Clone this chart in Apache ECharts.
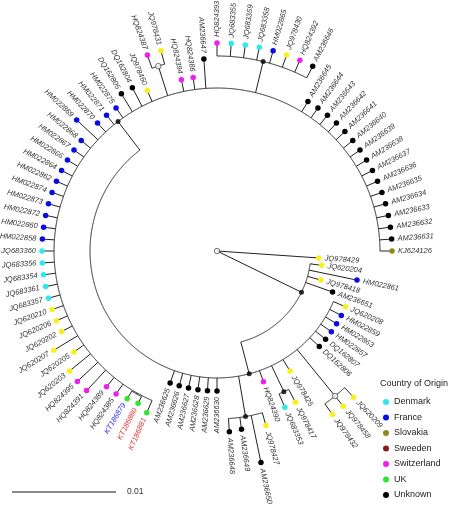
<!DOCTYPE html>
<html><head><meta charset="utf-8">
<script src="https://cdn.jsdelivr.net/npm/echarts@6/dist/echarts.min.js"></script>
<style>html,body{margin:0;padding:0;background:#fff}#c{width:472px;height:505px}</style>
</head><body><div id="c"></div>
<script>
// ---------- DATA ----------
// Tree topology (Newick); branch lengths in units of 1e-4 substitutions/site
const treeNewick = "(JQ978429:98,(JQ620204:11.1,HM022861:47.1,JQ978418:13.2,AM236651:27.5,(JQ620208:12.5,HM022859:12.5,HM022863:12.5,HM022857:12.5,DQ162807:12.5,DQ162806:12.5,(JQ620209:12.5,JQ978458:12.5,JQ978432:12.5)E:57.7,JQ978425:13,(JQ978417:14,JQ683353:14)F:27.7,HQ824390:11.2,(JQ978427:12.8,AM236650:46.2,AM236649:11.6,AM236648:12.7)G:39.4,AM236630:12.5,AM236629:12.5,AM236628:12.5,AM236627:12.5,AM236626:12.5,AM236625:12.5,(KT186881:12.8,(KT186880:7.3,KT186879:8.5)K:1,HQ824385:11.6,HQ824389:11.6,HQ824391:27,HQ824395:27,JQ620203:26,JQ620205:11.6,JQ620207:27,JQ620202:11.6,JQ620206:11.6,JQ620210:11.6,JQ683357:11.6,JQ683361:11.6,JQ683354:11.6,JQ683356:11.6,JQ683360:11.6,HM022858:11.6,HM022860:11.6,HM022872:11.6,HM022873:11.6,HM022874:11.6,HM022862:11.6,HM022864:11.6,HM022866:11.6,HM022867:11.6,HM022868:11.6,HM022869:27.9,HM022870:11.6,HM022871:11.6,HM022875:11.6,DQ162805:20.2,DQ162804:20.2,JQ978460:11.6,(HQ824387:13.5,JQ978431:13.5)X:29.8,HQ824394:11.6,HQ824386:11.6,AM236647:28.4,(HQ824393:12.5,JQ683355:12.5,JQ683359:12.5,JQ683358:12.5,HM022865:12.5,JQ978430:12.5,HQ824392:12.5,AM236646:12.5)N1:30.8,AM236645:11.6,AM236644:11.6,AM236643:11.6,AM236642:11.6,AM236641:11.6,AM236640:11.6,AM236639:11.6,AM236638:11.6,AM236637:11.6,AM236636:11.6,AM236635:11.6,AM236634:11.6,AM236633:11.6,AM236632:11.6,AM236631:11.6,KJ624126:11.6)H:34.6)B:31.7)A:90.4)root;";

// Leaf names and country, in tip order (clockwise from the right)
const leafNames = ["JQ978429","JQ620204","HM022861","JQ978418","AM236651","JQ620208","HM022859","HM022863","HM022857","DQ162807","DQ162806","JQ620209","JQ978458","JQ978432","JQ978425","JQ978417","JQ683353","HQ824390","JQ978427","AM236650","AM236649","AM236648","AM236630","AM236629","AM236628","AM236627","AM236626","AM236625","KT186881","KT186880","KT186879","HQ824385","HQ824389","HQ824391","HQ824395","JQ620203","JQ620205","JQ620207","JQ620202","JQ620206","JQ620210","JQ683357","JQ683361","JQ683354","JQ683356","JQ683360","HM022858","HM022860","HM022872","HM022873","HM022874","HM022862","HM022864","HM022866","HM022867","HM022868","HM022869","HM022870","HM022871","HM022875","DQ162805","DQ162804","JQ978460","HQ824387","JQ978431","HQ824394","HQ824386","AM236647","HQ824393","JQ683355","JQ683359","JQ683358","HM022865","JQ978430","HQ824392","AM236646","AM236645","AM236644","AM236643","AM236642","AM236641","AM236640","AM236639","AM236638","AM236637","AM236636","AM236635","AM236634","AM236633","AM236632","AM236631","KJ624126"];
const leafCountry = ["O","O","France","O","Unknown","O","France","France","France","Unknown","Unknown","O","O","O","O","O","Denmark","Switzerland","O","Unknown","Unknown","Unknown","Unknown","Unknown","Unknown","Unknown","Unknown","Unknown","UK","UK","UK","Switzerland","Switzerland","Switzerland","Switzerland","O","O","O","O","O","O","Denmark","Denmark","Denmark","Denmark","Denmark","France","France","France","France","France","France","France","France","France","France","France","France","France","France","Unknown","Unknown","O","Switzerland","O","Switzerland","Switzerland","Unknown","Switzerland","Denmark","Denmark","Denmark","France","O","Switzerland","Unknown","Unknown","Unknown","Unknown","Unknown","Unknown","Unknown","Unknown","Unknown","Unknown","Unknown","Unknown","Unknown","Unknown","Unknown","Unknown","Slovakia"];
const labelColors = {"KT186879":"#2a2ae0","KT186880":"#e83030","KT186881":"#e83030"};

const countries = ["Denmark","France","Slovakia","Sweeden","Switzerland","UK","Unknown"];
const countryColors = {"Denmark":"#2ee8ee","France":"#0a0ae6","Slovakia":"#8c8a1c","Sweeden":"#8b1a1a","Switzerland":"#f01ef0","UK":"#2ee62e","Unknown":"#000000","O":"#f6f01c"};

const filledNodes = ["A","B","F","G","H","N1"];
const openNodes = ["root","E","X"];

const scaleBarValue = 0.01;      // substitutions/site
const unitPerSubst = 1e4;        // branch length units

// ---------- PARSE & LAYOUT ----------
function parseNewick(s){
  let i=0;
  function node(){
    const n={children:[]};
    if(s[i]==='('){
      i++;
      while(true){
        n.children.push(node());
        if(s[i]===','){i++;continue;}
        if(s[i]===')'){i++;break;}
      }
    }
    let name='';
    while(i<s.length && !',():;'.includes(s[i])) name+=s[i++];
    n.name=name; n.len=0;
    if(s[i]===':'){i++;let num='';while(i<s.length && !',();'.includes(s[i])) num+=s[i++];n.len=parseFloat(num);}
    return n;
  }
  return node();
}
const root=parseNewick(treeNewick);
let leafCounter=0;
const allNodes=[];
function layout(n,pd){
  n.parentDepth=pd; n.depth=pd+n.len;
  if(!n.children.length){ leafCounter++; n.angle=leafCounter; n.leafIndex=leafCounter-1; }
  else{
    n.children.forEach(c=>layout(c,n.depth));
    n.angle=n.children.reduce((s,c)=>s+c.angle,0)/n.children.length;
    n.a0=n.children[0].angle; n.a1=n.children[n.children.length-1].angle;
  }
  allNodes.push(n);
}
layout(root,0);
const nLeaves=leafCounter;

const branchData=allNodes.filter(n=>n!==root).map(n=>[n.depth,n.angle,n.parentDepth,n.children.length?n.a0:-1,n.children.length?n.a1:-1]);
const leaves=allNodes.filter(n=>!n.children.length).sort((a,b)=>a.leafIndex-b.leafIndex);

const radiusMax=220, polarR=228.8;
const font='"Liberation Sans", Arial, sans-serif';

const series=[];
series.push({
  type:'custom', coordinateSystem:'polar', silent:true, z:1,
  data:branchData,
  renderItem:function(params,api){
    const r=api.value(0),a=api.value(1),pr=api.value(2),a0=api.value(3),a1=api.value(4);
    const p0=api.coord([pr,a]),p1=api.coord([r,a]);
    const ch=[{type:'line',shape:{x1:p0[0],y1:p0[1],x2:p1[0],y2:p1[1]},style:{stroke:'#222',lineWidth:1}}];
    if(a0>=0 && a1>a0){
      const pts=[];const n=Math.max(2,Math.ceil((a1-a0)/0.05));
      for(let k=0;k<=n;k++) pts.push(api.coord([r,a0+(a1-a0)*k/n]));
      ch.push({type:'polyline',shape:{points:pts},style:{stroke:'#222',lineWidth:1,fill:'none'}});
    }
    return {type:'group',children:ch};
  }
});
// leaf dots by country
const groups=countries.concat(['O']);
groups.forEach(cn=>{
  series.push({
    type:'scatter', coordinateSystem:'polar', name:cn==='O'?'Other':cn, z:3, silent:true,
    symbol:'circle', symbolSize:5.5,
    itemStyle:{color:countryColors[cn],opacity:1},
    data:leaves.filter(l=>leafCountry[l.leafIndex]===cn).map(l=>[l.depth,l.angle])
  });
});
// internal nodes
series.push({type:'scatter',coordinateSystem:'polar',z:3,silent:true,symbolSize:5,itemStyle:{color:'#000'},
  data:allNodes.filter(n=>filledNodes.includes(n.name)).map(n=>[n.depth,n.angle])});
series.push({type:'scatter',coordinateSystem:'polar',z:3,silent:true,symbolSize:5.5,itemStyle:{color:'#fff',borderColor:'#222',borderWidth:0.8},
  data:allNodes.filter(n=>openNodes.includes(n.name)).map(n=>[n.name==='root'?0:n.depth,n.angle])});
// labels
series.push({
  type:'custom', coordinateSystem:'polar', silent:true, z:4,
  data:leaves.map(l=>[l.depth,l.angle,l.leafIndex]),
  renderItem:function(params,api){
    const r=api.value(0),a=api.value(1),idx=api.value(2);
    const p=api.coord([r,a]),c=api.coord([0,a]);
    const dx=p[0]-c[0],dy=p[1]-c[1],L=Math.hypot(dx,dy);
    const ux=dx/L,uy=dy/L;
    let th=Math.atan2(dy,dx); let deg=th*180/Math.PI; if(deg<0)deg+=360;
    const flip=deg>=89.9 && deg<269.9;
    const name=leafNames[idx];
    return {type:'text',x:p[0]+ux*6,y:p[1]+uy*6,rotation:flip?-(th-Math.PI):-th,
      style:{text:name,align:flip?'right':'left',verticalAlign:'middle',fontSize:7.5,fontStyle:'italic',fontFamily:font,fill:labelColors[name]||'#333'}};
  }
});

const chart=echarts.init(document.getElementById('c'));
const pxPerUnit=polarR/radiusMax;
const barLen=scaleBarValue*unitPerSubst*pxPerUnit;
chart.setOption({
  animation:false,
  backgroundColor:'#fff',
  polar:{center:[217,251],radius:polarR},
  radiusAxis:{type:'value',min:0,max:radiusMax,show:false},
  angleAxis:{type:'value',min:0,max:nLeaves,startAngle:0,clockwise:true,show:false},
  title:{text:'Country of Origin',left:380,top:379,padding:0,textStyle:{fontSize:9,fontWeight:'normal',color:'#222',fontFamily:font}},
  legend:{orient:'vertical',left:383,top:397.5,padding:0,itemWidth:6,itemHeight:6,itemGap:6.5,icon:'circle',selectedMode:false,
    data:countries,textStyle:{fontSize:9,color:'#222',lineHeight:9,fontFamily:font}},
  graphic:[
    {type:'line',shape:{x1:12,y1:492,x2:12+barLen,y2:492},style:{stroke:'#888',lineWidth:2}},
    {type:'text',x:127,y:492,style:{text:String(scaleBarValue),fontSize:8.5,fill:'#333',fontFamily:font,verticalAlign:'middle'}}
  ],
  series:series
});
</script></body></html>
